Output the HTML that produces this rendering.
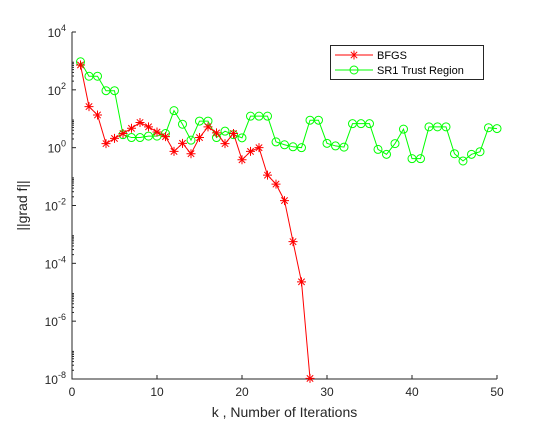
<!DOCTYPE html>
<html><head><meta charset="utf-8"><style>
body{margin:0;background:#fff}
svg{display:block;font-family:"Liberation Sans","DejaVu Sans",sans-serif}
</style></head><body>
<svg id="chart" width="550" height="427" viewBox="0 0 550 427"></svg>
<script>
const kValues=[1,2,3,4,5,6,7,8,9,10,11,12,13,14,15,16,17,18,19,20,21,22,23,24,25,26,27,28,29,30,31,32,33,34,35,36,37,38,39,40,41,42,43,44,45,46,47,48,49,50];
const bfgsLog=[2.86,1.42,1.13,0.14,0.32,0.49,0.67,0.87,0.72,0.54,0.38,-0.13,0.15,-0.21,0.35,0.72,0.51,0.14,0.49,-0.42,-0.13,0.0,-0.95,-1.26,-1.83,-3.25,-4.64,-7.98];
const sr1Log=[2.97,2.47,2.47,1.97,1.97,0.45,0.35,0.35,0.4,0.4,0.49,1.28,0.81,0.26,0.92,0.92,0.35,0.57,0.45,0.34,1.09,1.09,1.09,0.2,0.1,0.03,0.0,0.95,0.95,0.15,0.06,0.02,0.83,0.83,0.83,-0.06,-0.23,0.14,0.64,-0.38,-0.38,0.72,0.72,0.72,-0.21,-0.46,-0.23,-0.14,0.69,0.66];
const xTicks=[0,10,20,30,40,50];
const yTicks=[-8,-6,-4,-2,0,2,4];
const NS="http://www.w3.org/2000/svg";
const svg=document.getElementById('chart');
const L=72,R=497,T=32,B=379;
const xs=k=>L+(k-0)/(50-0)*(R-L);
const ys=v=>B-(v+8)/12*(B-T);
function mk(tag,attrs,parent){const e=document.createElementNS(NS,tag);for(const a in attrs)e.setAttribute(a,attrs[a]);(parent||svg).appendChild(e);return e;}
// axes
let ax=mk('path',{d:`M${L},${T}V${B}H${R}`,stroke:'#262626','stroke-width':1,fill:'none'});


xTicks.forEach(t=>{
  let l=mk('line',{x1:xs(t),x2:xs(t),y1:B,y2:B-4,stroke:'#262626'});
  
  
  let tx=mk('text',{x:xs(t),y:B+17,'font-size':12,'text-anchor':'middle',fill:'#262626'});
  tx.textContent=t;
  
  
});
yTicks.forEach(t=>{
  let l=mk('line',{x1:L,x2:L+4,y1:ys(t),y2:ys(t),stroke:'#262626'});
  
  
  for(let m=2;m<10&&t<4;m++){let yy=ys(t+Math.log10(m));let mm=mk('line',{x1:L,x2:L+2,y1:yy,y2:yy,stroke:'#262626'});
  
  }
  let tx=mk('text',{x:L-6,y:ys(t)+5,'font-size':12,'text-anchor':'end',fill:'#262626'});
  
  
  let b=mk('tspan',{},tx);b.textContent='10';
  let s=mk('tspan',{dy:-6,'font-size':9},tx);s.textContent=t;
});
let xl=mk('text',{x:(L+R)/2,y:417,'font-size':14,'text-anchor':'middle',fill:'#262626'});
xl.textContent='k , Number of Iterations';


let yl=mk('text',{x:0,y:0,'font-size':14,'text-anchor':'middle',fill:'#262626',transform:`translate(27,${(T+B)/2}) rotate(-90)`});
yl.textContent='||grad f||';


function star(x,y,g,c){const r=4.5;mk('path',{d:`M${x-r},${y}H${x+r}M${x},${y-r}V${y+r}M${x-3.2},${y-3.2}L${x+3.2},${y+3.2}M${x-3.2},${y+3.2}L${x+3.2},${y-3.2}`,stroke:c,'stroke-width':1,fill:'none'},g);}
// SR1
let g2=mk('g',{});


mk('polyline',{points:sr1Log.map((v,i)=>xs(kValues[i])+','+ys(v)).join(' '),stroke:'#00ff00',fill:'none','stroke-width':1},g2);
sr1Log.forEach((v,i)=>{let c=mk('circle',{cx:xs(kValues[i]),cy:ys(v),r:4,stroke:'#00ff00',fill:'none'},g2);

});
// BFGS
let g1=mk('g',{});


mk('polyline',{points:bfgsLog.map((v,i)=>xs(kValues[i])+','+ys(v)).join(' '),stroke:'#ff0000',fill:'none','stroke-width':1},g1);
bfgsLog.forEach((v,i)=>star(xs(kValues[i]),ys(v),g1,'#ff0000'));
// legend
let lg=mk('g',{});


mk('rect',{x:330.5,y:45.5,width:153,height:34,fill:'#fff',stroke:'#262626'},lg);
mk('line',{x1:335,x2:373,y1:55,y2:55,stroke:'#ff0000'},lg);star(354,55,lg,'#ff0000');
mk('line',{x1:335,x2:373,y1:70,y2:70,stroke:'#00ff00'},lg);mk('circle',{cx:354,cy:70,r:4,stroke:'#00ff00',fill:'none'},lg);
let t1=mk('text',{x:377,y:59,'font-size':11,fill:'#000'},lg);t1.textContent='BFGS';


let t2=mk('text',{x:377,y:74,'font-size':11,fill:'#000'},lg);t2.textContent='SR1 Trust Region';


</script>
</body></html>
